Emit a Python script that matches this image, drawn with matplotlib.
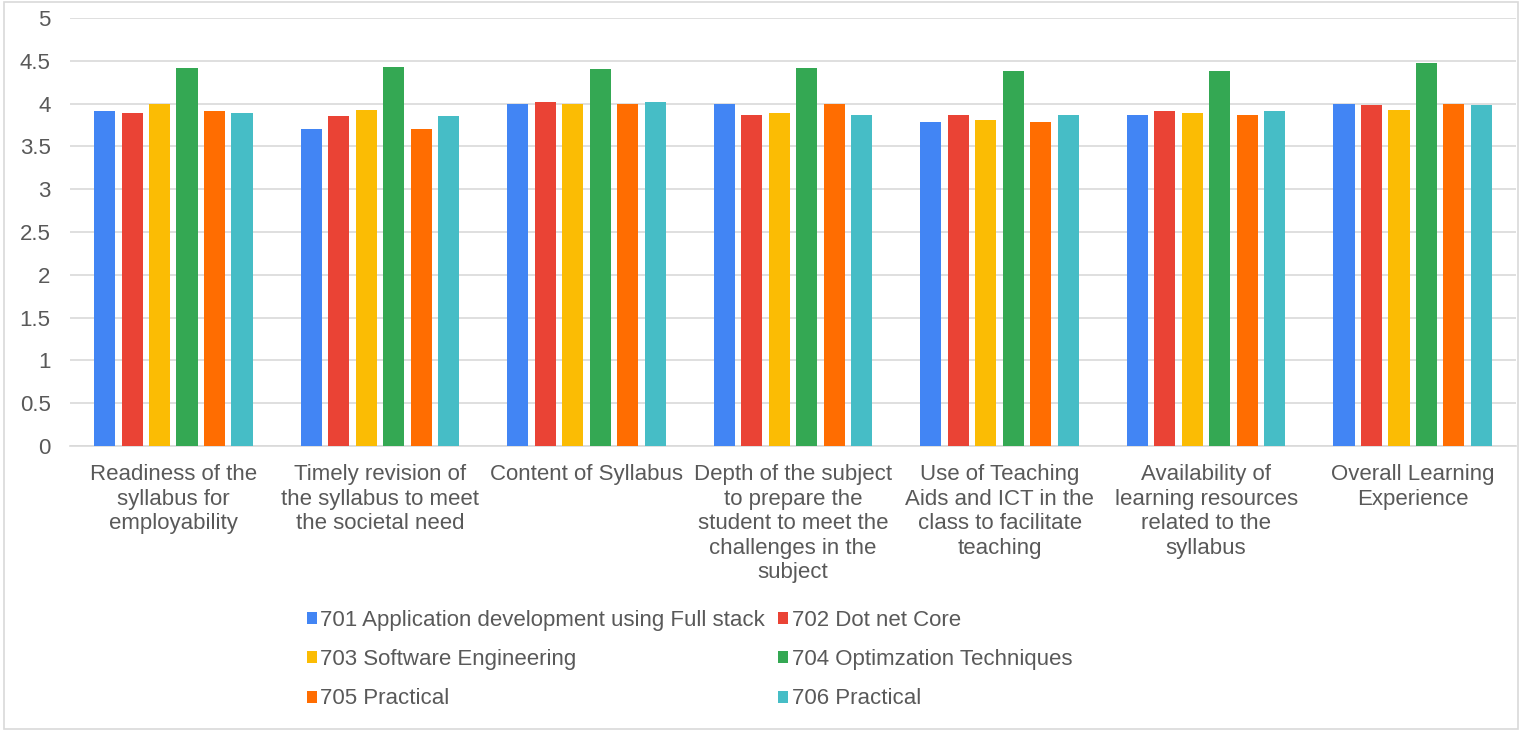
import numpy as np
import matplotlib.pyplot as plt
from matplotlib.patches import Rectangle

plt.rcParams['font.family'] = ['Liberation Sans', 'DejaVu Sans']

categories = [
    "Readiness of the\nsyllabus for\nemployability",
    "Timely revision of\nthe syllabus to meet\nthe societal need",
    "Content of Syllabus",
    "Depth of the subject\nto prepare the\nstudent to meet the\nchallenges in the\nsubject",
    "Use of Teaching\nAids and ICT in the\nclass to facilitate\nteaching",
    "Availability of\nlearning resources\nrelated to the\nsyllabus",
    "Overall Learning\nExperience",
]

series_names = [
    "701 Application development using Full stack",
    "702 Dot net Core",
    "703 Software Engineering",
    "704 Optimzation Techniques",
    "705 Practical",
    "706 Practical",
]

s701 = [3.91, 3.70, 4.00, 4.00, 3.79, 3.87, 4.00]
s702 = [3.89, 3.85, 4.02, 3.87, 3.87, 3.91, 3.98]
s703 = [4.00, 3.92, 4.00, 3.89, 3.81, 3.89, 3.92]
s704 = [4.42, 4.43, 4.40, 4.42, 4.38, 4.38, 4.47]
s705 = [3.91, 3.70, 4.00, 4.00, 3.79, 3.87, 4.00]
s706 = [3.89, 3.85, 4.02, 3.87, 3.87, 3.91, 3.98]

colors = ["#4285F4", "#EA4335", "#FBBC04", "#34A853", "#FF6D01", "#46BDC6"]

if __name__ == "__main__":
    data = [s701, s702, s703, s704, s705, s706]
    x = np.arange(len(categories))
    bar_w = 0.102
    step = 0.133
    fs = 16

    fig = plt.figure(figsize=(15.22, 7.31), dpi=100)
    ax = fig.add_axes([70 / 1522, 1 - 446 / 731, 1446 / 1522, 428 / 731])

    handles = []
    for i, (vals, c) in enumerate(zip(data, colors)):
        off = (i - 2.5) * step
        h = ax.bar(x + off, vals, bar_w, color=c, label=series_names[i], zorder=3)
        handles.append(h)

    ax.set_xlim(-0.5, len(categories) - 0.5)
    ax.set_ylim(0, 5)
    ax.set_yticks(np.arange(0, 5.01, 0.5))
    ax.set_yticklabels(["0", "0.5", "1", "1.5", "2", "2.5", "3", "3.5", "4", "4.5", "5"])
    ax.set_xticks(x)
    ax.set_xticklabels(categories, linespacing=1.22)
    ax.tick_params(axis="y", length=0, pad=14, labelsize=fs, labelcolor="#595959")
    ax.tick_params(axis="x", length=0, pad=13, labelsize=fs, labelcolor="#595959")
    ax.grid(axis="y", color="#d9d9d9", linewidth=1.2, zorder=0)
    for s in ["top", "right", "left"]:
        ax.spines[s].set_visible(False)
    ax.spines["bottom"].set_color("#d9d9d9")
    ax.spines["bottom"].set_linewidth(1.2)

    # legend laid out row by row like the original
    order = [0, 2, 4, 1, 3, 5]
    leg = fig.legend([handles[i] for i in order], [series_names[i] for i in order],
                     ncol=2, loc="upper left", bbox_to_anchor=(307 / 1522, 1 - 610 / 731),
                     frameon=False, fontsize=fs, handlelength=0.45, handleheight=0.45,
                     handletextpad=0.15, columnspacing=0.6, labelspacing=0.82,
                     borderaxespad=0, borderpad=0)
    for t in leg.get_texts():
        t.set_color("#595959")

    fig.patches.append(Rectangle((4 / 1522, 2 / 731), 1514 / 1522, 727 / 731,
                                 transform=fig.transFigure, fill=False,
                                 edgecolor="#d9d9d9", linewidth=1.2))

    fig.savefig("out.png", dpi=100)
